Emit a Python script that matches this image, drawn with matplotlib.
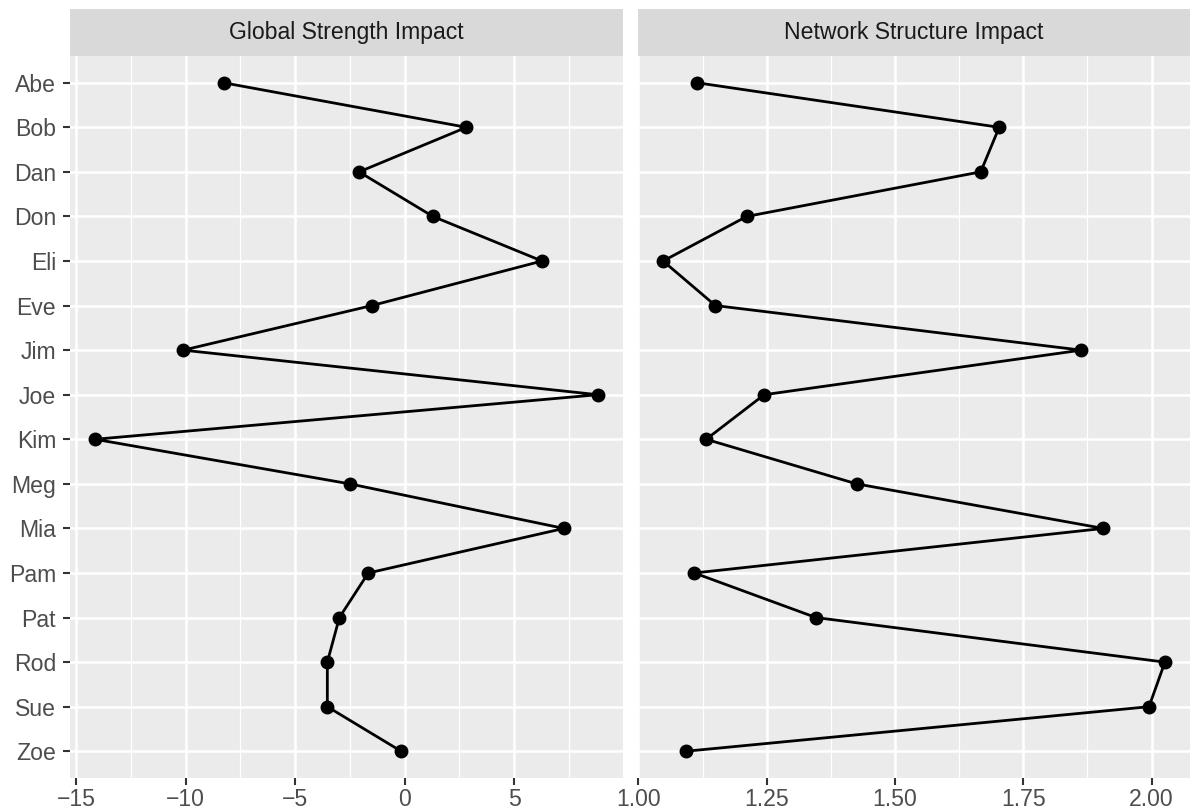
import numpy as np
import matplotlib.pyplot as plt
from matplotlib.ticker import MultipleLocator

plt.rcParams['font.family'] = ['Liberation Sans', 'DejaVu Sans']

names = ['Abe', 'Bob', 'Dan', 'Don', 'Eli', 'Eve', 'Jim', 'Joe',
         'Kim', 'Meg', 'Mia', 'Pam', 'Pat', 'Rod', 'Sue', 'Zoe']
global_strength = [-8.27, 2.82, -2.08, 1.29, 6.27, -1.50, -10.11, 8.82,
                   -14.13, -2.51, 7.27, -1.66, -2.98, -3.53, -3.53, -0.16]
network_structure = [1.114, 1.703, 1.667, 1.211, 1.048, 1.150, 1.863, 1.245,
                     1.132, 1.425, 1.906, 1.109, 1.346, 2.026, 1.995, 1.092]

panel_titles = ['Global Strength Impact', 'Network Structure Impact']
major_steps = [5, 0.25]
tick_fmt = ['{:.0f}', '{:.2f}']

W, H = 1195, 810
fig = plt.figure(figsize=(W / 100, H / 100), dpi=100)

panel_x = [(70, 623), (638, 1190)]
panel_top, panel_bottom = 56, 778
strip_top = 9

y = np.arange(len(names))

for i, values in enumerate([global_strength, network_structure]):
    x0, x1 = panel_x[i]
    ax = fig.add_axes([x0 / W, (H - panel_bottom) / H,
                       (x1 - x0) / W, (panel_bottom - panel_top) / H])
    ax.set_facecolor('#EBEBEB')
    for s in ax.spines.values():
        s.set_visible(False)

    ax.plot(values, y, color='black', lw=2.0, zorder=3)
    ax.plot(values, y, 'o', color='black', ms=9, zorder=4)

    lo, hi = min(values), max(values)
    pad = (hi - lo) * 0.05
    ax.set_xlim(lo - pad, hi + pad)
    ax.set_ylim(len(names) - 0.4, -0.6)

    ax.xaxis.set_major_locator(MultipleLocator(major_steps[i]))
    ax.xaxis.set_minor_locator(MultipleLocator(major_steps[i] / 2))
    ticks = [t for t in ax.get_xticks() if lo - pad <= t <= hi + pad]
    ax.set_xticks(ticks)
    ax.set_xticklabels([tick_fmt[i].format(t).replace('-', '\u2212') for t in ticks])
    ax.set_yticks(y)
    ax.set_yticklabels(names if i == 0 else [])

    ax.grid(which='major', color='white', lw=1.8, zorder=1)
    ax.grid(which='minor', axis='x', color='white', lw=0.9, zorder=1)
    ax.set_axisbelow(True)

    ax.tick_params(axis='both', which='major', length=5, width=1.5,
                   color='#333333', labelcolor='#4D4D4D', labelsize=16.6)
    ax.tick_params(axis='x', pad=2.5)
    ax.tick_params(axis='y', pad=5)
    ax.tick_params(which='minor', length=0)
    if i == 1:
        ax.tick_params(axis='y', length=0)

    # facet strip
    sax = fig.add_axes([x0 / W, (H - panel_top) / H,
                        (x1 - x0) / W, (panel_top - strip_top) / H])
    sax.set_facecolor('#D9D9D9')
    sax.set_xticks([])
    sax.set_yticks([])
    for s in sax.spines.values():
        s.set_visible(False)
    sax.text(0.5, 0.5, panel_titles[i], ha='center', va='center',
             fontsize=16.6, color='#1A1A1A', transform=sax.transAxes)

fig.savefig('out.png', dpi=100)
